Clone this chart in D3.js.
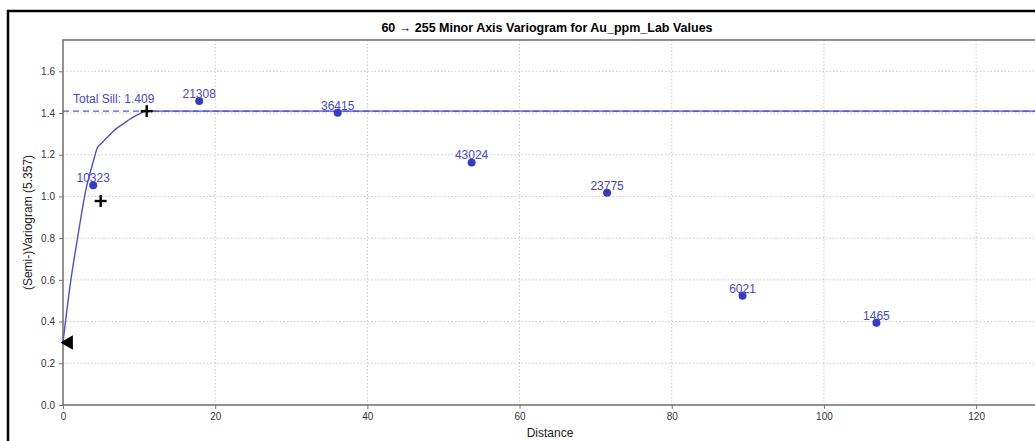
<!DOCTYPE html>
<html>
<head>
<meta charset="UTF-8">
<title>Minor Axis Variogram</title>
<script src="https://cdn.jsdelivr.net/npm/d3@7"></script>
<style type="text/css">
body, html {
    margin: 0;
    padding: 0;
    background: #fff;
    overflow: hidden;
}

svg {
    display: block;
    font-family: "Liberation Sans", Arial, sans-serif;
}

.axis text {
    font-size: 10px;
    fill: #333;
}

.axis path, .axis line {
    stroke: #777;
}

.grid line {
    stroke: #c8c8c8;
    stroke-dasharray: 1.5,2;
}
</style>
</head>
<body>

<div class="variogram"></div>

<script type="text/javascript">
// experimental points
var lagDist  = [3.97, 17.9, 36.1, 53.7, 71.5, 89.3, 106.9];
var gamma    = [1.053, 1.458, 1.401, 1.163, 1.018, 0.524, 0.394];
var numPairs = [10323, 21308, 36415, 43024, 23775, 6021, 1465];

// model curve
var modelDist  = [0, 1, 2, 3, 4, 4.5, 5, 6, 7, 8, 9, 10, 11, 128];
var modelGamma = [0.30, 0.59, 0.82, 1.03, 1.17, 1.232, 1.253, 1.29, 1.325, 1.35, 1.375, 1.395, 1.409, 1.409];

var totalSill = 1.409;
var nuggetMarker = [0.75, 0.30];
var rangeMarkers = [[4.95, 0.978], [11.0, 1.409]];

var xTicks = [0, 20, 40, 60, 80, 100, 120];
var yTicks = [0.0, 0.2, 0.4, 0.6, 0.8, 1.0, 1.2, 1.4, 1.6];

var W = 1035, H = 441;
var margin = {top: 40, left: 63, bottom: 36},
    plotW  = 974,
    plotH  = H - margin.top - margin.bottom;

var x = d3.scaleLinear().domain([0, 128]).range([0, plotW]),
    y = d3.scaleLinear().domain([0, 1.75]).range([plotH, 0]);

var blue = "#3a3abf";

var svg = d3.select(".variogram")
    .append("svg")
    .attr("width", W)
    .attr("height", H);

// outer frame of the screenshot
svg.append("rect")
    .attr("x", 8).attr("y", 11)
    .attr("width", W + 20).attr("height", H + 20)
    .attr("fill", "none")
    .attr("stroke", "#000")
    .attr("stroke-width", 2.5);

svg.append("text")
    .attr("x", 547)
    .attr("y", 32)
    .attr("text-anchor", "middle")
    .attr("font-size", "12.5px")
    .attr("font-weight", "bold")
    .text("60 \u2192 255 Minor Axis Variogram for Au_ppm_Lab Values");

var g = svg.append("g")
    .attr("transform", "translate(" + margin.left + "," + margin.top + ")");

// grid
g.append("g")
    .attr("class", "grid")
    .selectAll("line")
    .data(xTicks.slice(1))
    .enter()
    .append("line")
    .attr("x1", function (d) { return x(d); })
    .attr("x2", function (d) { return x(d); })
    .attr("y1", 0)
    .attr("y2", plotH);

g.append("g")
    .attr("class", "grid")
    .selectAll("line")
    .data(yTicks.slice(1))
    .enter()
    .append("line")
    .attr("x1", 0)
    .attr("x2", plotW)
    .attr("y1", function (d) { return y(d); })
    .attr("y2", function (d) { return y(d); });

// axes
g.append("g")
    .attr("class", "x axis")
    .attr("transform", "translate(0," + plotH + ")")
    .call(d3.axisBottom(x).tickValues(xTicks).tickFormat(d3.format("d")).tickSizeOuter(0).tickSize(4).tickPadding(4))
    .select(".domain").remove();

g.append("g")
    .attr("class", "y axis")
    .call(d3.axisLeft(y).tickValues(yTicks).tickFormat(d3.format(".1f")).tickSizeOuter(0).tickSize(4).tickPadding(4))
    .select(".domain").remove();

// plot frame
g.append("rect")
    .attr("x", 0).attr("y", 0)
    .attr("width", plotW).attr("height", plotH)
    .attr("fill", "none")
    .attr("stroke", "#777")
    .attr("stroke-width", 1.6);

svg.append("text")
    .attr("x", margin.left + plotW / 2)
    .attr("y", 437)
    .attr("text-anchor", "middle")
    .attr("font-size", "12px")
    .attr("fill", "#222")
    .text("Distance");

svg.append("text")
    .attr("transform", "translate(32," + (margin.top + plotH / 2) + ") rotate(-90)")
    .attr("text-anchor", "middle")
    .attr("font-size", "12px")
    .attr("fill", "#222")
    .text("(Semi-)Variogram (5.357)");

// sill reference line
g.append("line")
    .attr("x1", 0).attr("x2", plotW)
    .attr("y1", y(totalSill)).attr("y2", y(totalSill))
    .attr("stroke", "#5a5ac8")
    .attr("stroke-width", 1.4)
    .attr("stroke-dasharray", "6,4");

g.append("text")
    .attr("x", 10)
    .attr("y", y(totalSill) - 8)
    .attr("font-size", "12px")
    .attr("fill", "#4a4ab8")
    .text("Total Sill: " + totalSill.toFixed(3));

// model curve
var model = modelDist.map(function (d, i) { return [d, modelGamma[i]]; });
g.append("path")
    .datum(model)
    .attr("fill", "none")
    .attr("stroke", "#4f4fc6")
    .attr("stroke-width", 1.4)
    .attr("d", d3.line()
        .x(function (d) { return x(d[0]); })
        .y(function (d) { return y(d[1]); })
        .curve(d3.curveMonotoneX));

// points and pair counts
var pts = lagDist.map(function (d, i) { return {h: d, v: gamma[i], n: numPairs[i]}; });

g.selectAll("circle.pt")
    .data(pts)
    .enter()
    .append("circle")
    .attr("class", "pt")
    .attr("cx", function (d) { return x(d.h); })
    .attr("cy", function (d) { return y(d.v); })
    .attr("r", 4)
    .attr("fill", blue);

g.selectAll("text.pairs")
    .data(pts)
    .enter()
    .append("text")
    .attr("class", "pairs")
    .attr("x", function (d) { return x(d.h); })
    .attr("y", function (d) { return y(d.v) - 3; })
    .attr("text-anchor", "middle")
    .attr("font-size", "12px")
    .attr("fill", "#4a4ab8")
    .text(function (d) { return d.n; });

// nugget marker
g.append("path")
    .attr("d", d3.symbol().type(d3.symbolTriangle).size(90)())
    .attr("transform", "translate(" + x(nuggetMarker[0]) + "," + y(nuggetMarker[1]) + ") rotate(-90)")
    .attr("fill", "#000");

// range markers
var plus = g.selectAll("g.plus")
    .data(rangeMarkers)
    .enter()
    .append("g")
    .attr("class", "plus")
    .attr("transform", function (d) { return "translate(" + x(d[0]) + "," + y(d[1]) + ")"; });

plus.append("line").attr("x1", -6).attr("x2", 6).attr("y1", 0).attr("y2", 0);
plus.append("line").attr("x1", 0).attr("x2", 0).attr("y1", -6).attr("y2", 6);
plus.selectAll("line")
    .attr("stroke", "#000")
    .attr("stroke-width", 2.4);
</script>
</body>
</html>
